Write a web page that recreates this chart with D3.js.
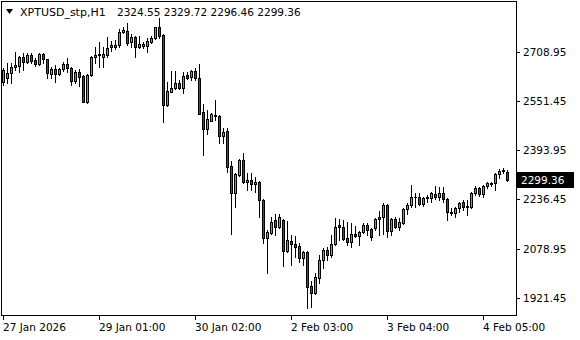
<!DOCTYPE html>
<html>
<head>
<meta charset="utf-8">
<script src="https://cdn.jsdelivr.net/npm/d3@7"></script>
<style>
  html, body { margin: 0; padding: 0; background: #fff; }
  svg { display: block; }
  text { font-family: "DejaVu Sans", sans-serif; }
</style>
</head>
<body>
<div id="chart"></div>
<script>
const symbolTitle = 'XPTUSD_stp,H1';
const lastBar = ['2324.55', '2329.72', '2296.46', '2299.36'];

// H1 bars, oldest first
const opens = [
  2613.0, 2623.8, 2639.8, 2659.0, 2664.2, 2693.0, 2677.0, 2698.4, 2682.4, 2668.6,
  2700.6, 2684.6, 2637.6, 2652.6, 2637.6, 2652.6, 2669.6, 2655.8, 2616.2, 2645.0,
  2631.2, 2547.0, 2634.4, 2691.0, 2697.4, 2691.0, 2698.4, 2723.0, 2725.0, 2730.4,
  2773.0, 2775.2, 2741.0, 2755.0, 2725.0, 2727.2, 2728.2, 2741.0, 2751.8, 2787.0,
  2762.4, 2538.4, 2581.0, 2593.8, 2607.8, 2591.8, 2634.4, 2629.0, 2647.2, 2625.8,
  2515.0, 2460.6, 2488.2, 2503.2, 2503.2, 2440.2, 2455.2, 2343.2, 2255.8, 2314.4,
  2362.4, 2291.0, 2298.4, 2284.6, 2293.0, 2234.4, 2111.8, 2129.8, 2170.4, 2147.0,
  2170.4, 2072.2, 2104.2, 2093.6, 2087.2, 2047.8, 2069.0, 1959.2, 1935.8, 1983.8,
  2042.4, 2074.4, 2058.4, 2093.6, 2154.4, 2147.0, 2111.8, 2099.0, 2125.6, 2119.2,
  2133.0, 2154.4, 2140.6, 2143.8, 2172.6, 2179.0, 2218.4, 2135.2, 2172.6, 2149.0,
  2161.8, 2204.6, 2218.4, 2243.0, 2243.0, 2221.6, 2239.8, 2239.8, 2253.6, 2243.0,
  2255.8, 2236.6, 2197.0, 2191.8, 2207.8, 2229.0, 2211.0, 2211.0, 2255.8, 2271.8,
  2252.6, 2279.2, 2284.6, 2287.8, 2317.6, 2327.0, 2324.55
];
const highs = [
  2655.8, 2671.8, 2673.8, 2709.0, 2695.2, 2703.8, 2703.8, 2703.8, 2689.8, 2703.8,
  2703.8, 2686.0, 2661.0, 2666.4, 2657.8, 2675.0, 2687.8, 2661.0, 2650.4, 2652.6,
  2633.0, 2636.6, 2695.2, 2723.0, 2741.0, 2725.0, 2757.0, 2744.2, 2746.4, 2780.6,
  2787.0, 2799.8, 2764.6, 2760.2, 2760.2, 2739.0, 2751.8, 2760.2, 2789.0, 2817.8,
  2764.6, 2613.0, 2647.2, 2647.2, 2618.4, 2645.0, 2645.0, 2650.4, 2655.8, 2669.6,
  2540.6, 2522.4, 2511.8, 2554.4, 2506.4, 2463.8, 2463.8, 2360.2, 2319.8, 2365.6,
  2383.8, 2319.8, 2319.8, 2309.0, 2295.2, 2236.0, 2138.4, 2181.0, 2189.6, 2189.6,
  2172.6, 2168.2, 2122.4, 2119.2, 2095.8, 2071.2, 2072.2, 1976.2, 2001.8, 2058.4,
  2079.8, 2084.0, 2122.4, 2175.8, 2172.6, 2170.4, 2165.0, 2159.8, 2151.2, 2136.2,
  2161.8, 2161.8, 2143.8, 2177.8, 2200.2, 2225.8, 2221.6, 2175.8, 2181.0, 2175.8,
  2207.8, 2225.8, 2282.4, 2255.8, 2255.8, 2245.0, 2250.4, 2261.0, 2279.2, 2277.0,
  2277.0, 2239.8, 2207.8, 2213.0, 2229.0, 2234.4, 2234.4, 2261.0, 2279.2, 2277.0,
  2282.4, 2291.0, 2293.0, 2319.8, 2333.6, 2335.8, 2329.72
];
const lows = [
  2602.4, 2607.8, 2607.8, 2650.4, 2645.0, 2650.4, 2671.8, 2671.8, 2663.2, 2666.4,
  2671.8, 2623.8, 2623.8, 2613.0, 2634.4, 2648.2, 2645.0, 2602.4, 2609.8, 2599.2,
  2547.5, 2545.8, 2631.2, 2673.8, 2661.0, 2661.0, 2691.0, 2712.2, 2716.6, 2723.0,
  2767.8, 2730.4, 2723.0, 2693.0, 2721.8, 2721.8, 2709.0, 2735.8, 2749.6, 2753.8,
  2485.0, 2536.2, 2579.0, 2589.6, 2589.6, 2575.8, 2621.6, 2618.4, 2618.4, 2508.6,
  2378.4, 2444.6, 2487.2, 2490.4, 2415.8, 2415.8, 2325.0, 2124.6, 2213.0, 2311.2,
  2287.8, 2266.4, 2266.4, 2261.0, 2181.0, 2095.8, 2001.8, 2125.6, 2122.4, 2143.8,
  2023.2, 2069.0, 2026.4, 2053.0, 2037.0, 2026.4, 1887.8, 1893.0, 1932.6, 1967.8,
  2015.8, 2042.4, 2053.0, 2090.4, 2106.4, 2106.4, 2090.4, 2085.0, 2117.0, 2090.4,
  2129.8, 2122.4, 2106.4, 2138.4, 2122.4, 2125.6, 2115.0, 2122.4, 2143.8, 2138.4,
  2157.6, 2189.6, 2213.0, 2211.0, 2218.4, 2215.2, 2229.0, 2229.0, 2236.6, 2234.4,
  2229.0, 2170.4, 2186.4, 2179.0, 2197.0, 2202.4, 2186.4, 2207.8, 2250.4, 2247.2,
  2245.0, 2271.8, 2279.2, 2266.4, 2303.8, 2319.8, 2296.46
];
const closes = [
  2650.4, 2641.8, 2659.0, 2666.4, 2693.0, 2677.0, 2698.4, 2680.2, 2668.6, 2700.6,
  2684.6, 2639.8, 2652.6, 2637.6, 2652.6, 2669.6, 2655.8, 2616.2, 2645.0, 2629.0,
  2549.0, 2634.4, 2693.0, 2698.4, 2701.6, 2701.6, 2719.8, 2730.4, 2730.4, 2773.0,
  2778.4, 2738.4, 2755.0, 2725.0, 2732.6, 2732.6, 2743.2, 2751.8, 2787.0, 2760.2,
  2538.4, 2583.2, 2593.8, 2607.8, 2591.8, 2631.2, 2623.8, 2647.2, 2625.8, 2509.6,
  2460.6, 2493.6, 2509.6, 2507.4, 2439.2, 2453.0, 2341.0, 2255.8, 2317.6, 2362.4,
  2291.0, 2298.4, 2285.6, 2293.0, 2234.4, 2111.8, 2133.0, 2165.0, 2147.0, 2179.0,
  2072.2, 2106.4, 2092.6, 2085.0, 2047.8, 2069.0, 1957.0, 1935.8, 1987.0, 2042.4,
  2074.4, 2058.4, 2093.6, 2147.0, 2147.0, 2109.6, 2099.0, 2125.6, 2119.2, 2133.0,
  2154.4, 2138.4, 2115.0, 2172.6, 2181.0, 2218.4, 2135.2, 2172.6, 2149.0, 2165.0,
  2204.6, 2218.4, 2243.0, 2244.0, 2221.6, 2239.8, 2243.0, 2255.8, 2243.0, 2255.8,
  2236.6, 2195.0, 2191.8, 2207.8, 2225.8, 2211.0, 2215.2, 2255.8, 2271.8, 2252.6,
  2279.2, 2287.8, 2289.8, 2317.6, 2328.2, 2330.4, 2299.36
];

const priceTicks = [1921.45, 2078.95, 2236.45, 2393.95, 2551.45, 2708.95];
const timeTickBars = [0, 24, 48, 72, 96, 120];
const timeTickLabels = ['27 Jan 2026', '29 Jan 01:00', '30 Jan 02:00', '2 Feb 03:00', '3 Feb 04:00', '4 Feb 05:00'];

const width = 580, height = 340;
const frame = { left: 1, right: 516, top: 1, bottom: 315 };
const bullColor = '#32cd32';
const bearColor = '#ff0000';

const bars = opens.map((o, i) => ({ i, o, h: highs[i], l: lows[i], c: closes[i] }));

const x = d3.scaleLinear().domain([0, bars.length - 1]).range([3, 3 + 4 * (bars.length - 1)]);
const y = d3.scaleLinear().domain([1921.45, 2708.95]).range([297.7, 51.7]);

const svg = d3.select('#chart').append('svg')
  .attr('width', width)
  .attr('height', height)
  .attr('shape-rendering', 'crispEdges');

svg.append('rect').attr('width', width).attr('height', height).attr('fill', '#fff');

// frame
svg.append('rect')
  .attr('x', frame.left + 0.5).attr('y', frame.top + 0.5)
  .attr('width', frame.right - frame.left).attr('height', frame.bottom - frame.top)
  .attr('fill', 'none').attr('stroke', '#000');

// candles
const candle = svg.append('g').selectAll('g')
  .data(bars)
  .enter()
  .append('g');

candle.append('rect') // wick
  .attr('x', d => Math.round(x(d.i)))
  .attr('width', 1)
  .attr('y', d => Math.round(y(d.h)))
  .attr('height', d => Math.max(1, Math.round(y(d.l)) - Math.round(y(d.h)) + 1))
  .attr('fill', '#000');

candle.append('rect') // body outline
  .attr('x', d => Math.round(x(d.i)) - 1)
  .attr('width', 3)
  .attr('y', d => Math.round(y(Math.max(d.o, d.c))))
  .attr('height', d => Math.round(y(Math.min(d.o, d.c))) - Math.round(y(Math.max(d.o, d.c))) + 1)
  .attr('fill', '#000');

candle.filter(d => Math.round(y(Math.min(d.o, d.c))) - Math.round(y(Math.max(d.o, d.c))) > 1)
  .append('rect') // body fill
  .attr('x', d => Math.round(x(d.i)))
  .attr('width', 1)
  .attr('y', d => Math.round(y(Math.max(d.o, d.c))) + 1)
  .attr('height', d => Math.round(y(Math.min(d.o, d.c))) - Math.round(y(Math.max(d.o, d.c))) - 1)
  .attr('fill', d => d.c >= d.o ? bullColor : bearColor);

// price axis
const yAxis = svg.append('g');
yAxis.selectAll('line')
  .data(priceTicks)
  .enter()
  .append('line')
  .attr('x1', frame.right + 1).attr('x2', frame.right + 4)
  .attr('y1', d => Math.round(y(d)) + 0.5).attr('y2', d => Math.round(y(d)) + 0.5)
  .attr('stroke', '#000');
yAxis.selectAll('text')
  .data(priceTicks)
  .enter()
  .append('text')
  .attr('x', frame.right + 7)
  .attr('y', d => Math.round(y(d)) + 4)
  .attr('font-size', '10.5px')
  .attr('fill', '#000')
  .text(d => d.toFixed(2));

// current price tag
const last = bars[bars.length - 1];
const lastY = Math.round(y(last.c));
svg.append('rect')
  .attr('x', frame.right + 1).attr('y', lastY - 8)
  .attr('width', 57).attr('height', 16)
  .attr('fill', '#000');
svg.append('text')
  .attr('x', frame.right + 5).attr('y', lastY + 4)
  .attr('font-size', '10.5px')
  .attr('fill', '#fff')
  .text(last.c.toFixed(2));

// time axis
const xAxis = svg.append('g');
xAxis.selectAll('line')
  .data(timeTickBars)
  .enter()
  .append('line')
  .attr('x1', d => Math.round(x(d)) + 0.5).attr('x2', d => Math.round(x(d)) + 0.5)
  .attr('y1', frame.bottom + 1).attr('y2', frame.bottom + 5)
  .attr('stroke', '#000');
xAxis.selectAll('text')
  .data(timeTickBars)
  .enter()
  .append('text')
  .attr('x', d => Math.round(x(d)))
  .attr('y', 331)
  .attr('font-size', '10.5px')
  .attr('fill', '#000')
  .text((d, k) => timeTickLabels[k]);

// header
svg.append('path')
  .attr('d', 'M6,9 L13,9 L9.5,14 Z')
  .attr('fill', '#000')
  .attr('shape-rendering', 'auto');
svg.append('text')
  .attr('x', 20).attr('y', 16)
  .attr('font-size', '11px')
  .attr('fill', '#000')
  .text(symbolTitle);
svg.append('text')
  .attr('x', 117).attr('y', 16)
  .attr('font-size', '10.5px')
  .attr('fill', '#000')
  .attr('xml:space', 'preserve')
  .text(lastBar.join(' '));
</script>
</body>
</html>
